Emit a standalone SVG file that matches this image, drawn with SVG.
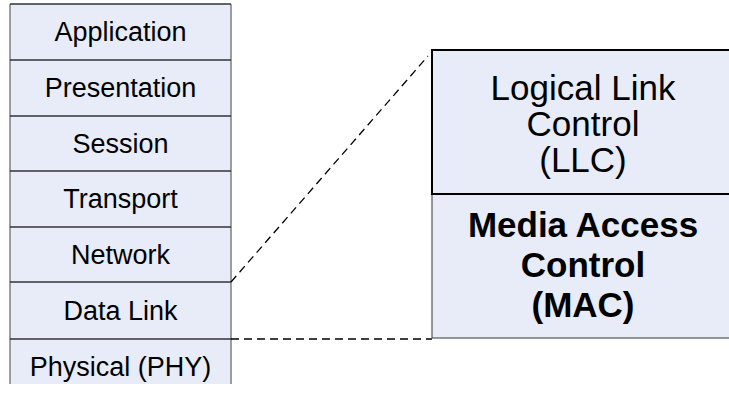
<svg xmlns="http://www.w3.org/2000/svg" width="729" height="394" viewBox="0 0 729 394">
<style>
.bg{fill:#ffffff}
.cell{fill:#E8ECF8;stroke:none}
.vline{stroke:#7f7f7f;stroke-width:1.5;fill:none}
.hline{stroke:#333333;stroke-width:1.5;fill:none}
.lt{font-family:"Liberation Sans",Arial,sans-serif;font-size:27px;fill:#000;text-anchor:middle}
.rt{font-family:"Liberation Sans",Arial,sans-serif;font-size:35px;fill:#000;text-anchor:middle}
.rb{font-family:"Liberation Sans",Arial,sans-serif;font-size:35px;font-weight:bold;fill:#000;text-anchor:middle}
.dash{stroke:#000;stroke-width:1.3;stroke-dasharray:8 5;fill:none}
</style>
<rect class="bg" x="0" y="0" width="729" height="394"/>
<g id="osi-stack">
  <rect class="cell" x="10" y="4" width="221" height="380"/>
  <g id="application"><text class="lt" x="120.5" y="41">Application</text></g>
  <g id="presentation"><text class="lt" x="120.5" y="97">Presentation</text></g>
  <g id="session"><text class="lt" x="120.5" y="152.5">Session</text></g>
  <g id="transport"><text class="lt" x="120.5" y="208">Transport</text></g>
  <g id="network"><text class="lt" x="120.5" y="263.5">Network</text></g>
  <g id="datalink"><text class="lt" x="120.5" y="319.5">Data Link</text></g>
  <g id="physical"><text class="lt" x="120.5" y="376">Physical (PHY)</text></g>
  <path class="vline" d="M10,4 V384 M231,4 V384"/>
  <path class="hline" d="M10,4 H231 M10,60 H231 M10,116 H231 M10,171 H231 M10,227 H231 M10,282 H231 M10,339 H231"/>
</g>
<g id="connectors">
  <line class="dash" x1="231" y1="282" x2="428" y2="56"/>
  <line class="dash" x1="231" y1="339" x2="432" y2="339"/>
</g>
<g id="mac">
  <rect x="432" y="194" width="300" height="144" fill="#E8ECF8" stroke="#555" stroke-width="1.2"/>
  <text class="rb" x="583" y="237">Media Access</text>
  <text class="rb" x="583" y="277">Control</text>
  <text class="rb" x="583" y="317">(MAC)</text>
</g>
<g id="llc">
  <rect x="432" y="50" width="300" height="144" fill="#E8ECF8" stroke="#000" stroke-width="2"/>
  <text class="rt" x="583" y="100">Logical Link</text>
  <text class="rt" x="583" y="136">Control</text>
  <text class="rt" x="583" y="172">(LLC)</text>
</g>
</svg>
